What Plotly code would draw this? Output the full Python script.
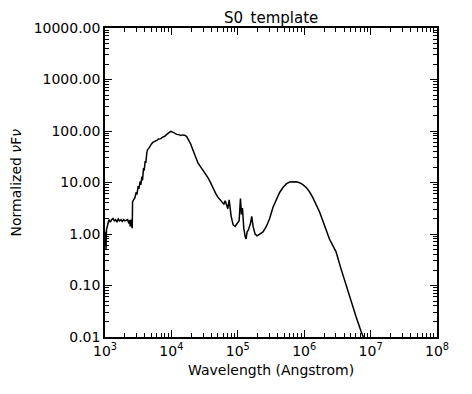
import plotly.graph_objects as go

# Log10 wavelength (Angstrom) and normalized nuFnu
log_wavelength = [
    3.000, 3.005, 3.010, 3.015, 3.022, 3.030, 3.045, 3.060, 3.080, 3.100,
    3.120, 3.140, 3.160, 3.180, 3.200, 3.220, 3.240, 3.260, 3.280, 3.300,
    3.320, 3.340, 3.360, 3.370, 3.380, 3.390, 3.400, 3.405, 3.410, 3.415,
    3.430, 3.450, 3.470, 3.480, 3.500, 3.510, 3.530, 3.540, 3.555, 3.565,
    3.580, 3.590, 3.605, 3.615, 3.630, 3.640, 3.660, 3.680, 3.700, 3.720,
    3.750, 3.780, 3.810, 3.840, 3.870, 3.900, 3.930, 3.960, 3.990, 4.020,
    4.050, 4.080, 4.110, 4.140, 4.170, 4.200, 4.230, 4.260, 4.290, 4.320,
    4.350, 4.380, 4.400, 4.430, 4.460, 4.490, 4.520, 4.550, 4.580, 4.610,
    4.640, 4.670, 4.700, 4.730, 4.760, 4.790, 4.810, 4.830, 4.850, 4.870,
    4.880, 4.900, 4.930, 4.960, 4.990, 5.020, 5.040, 5.055, 5.070, 5.090,
    5.110, 5.125, 5.140, 5.160, 5.190, 5.210, 5.230, 5.260, 5.290, 5.330,
    5.380, 5.430, 5.480, 5.530, 5.580, 5.630, 5.680, 5.730, 5.780, 5.830,
    5.880, 5.930, 5.980, 6.030, 6.080, 6.130, 6.180, 6.230, 6.280, 6.330,
    6.380, 6.430, 6.480, 6.550, 6.620, 6.700, 6.780, 6.860, 6.920, 7.000,
]
flux = [
    0.95, 0.6, 1.1, 0.5, 1.2, 1.4, 1.6, 1.9, 1.7, 1.9,
    2.0, 1.8, 1.9, 1.7, 1.95, 1.8, 1.9, 1.75, 1.9, 1.8,
    1.85, 1.9, 1.6, 1.85, 1.4, 1.9, 1.5, 3.5, 1.3, 4.2,
    4.6, 5.0, 6.5, 5.8, 8.5, 7.5, 10.5, 9.0, 13.0, 11.0,
    19.0, 17.0, 26.0, 24.0, 38.0, 43.0, 46.0, 52.0, 56.0, 60.0,
    62.0, 66.0, 70.0, 71.0, 76.0, 79.0, 86.0, 92.0, 98.0, 95.0,
    90.0, 86.0, 85.0, 82.0, 84.0, 83.0, 78.0, 66.0, 56.0, 44.0,
    34.0, 27.0, 24.0, 21.0, 18.5, 16.0, 14.5, 12.5, 10.5, 8.5,
    7.0, 6.0, 5.2, 4.7, 4.2, 3.8, 4.4, 3.5, 3.1, 4.6,
    3.6, 2.2, 1.5, 1.4, 1.6, 1.8, 4.9, 2.4, 3.2, 1.3,
    0.9, 0.8, 1.1, 1.2, 1.6, 2.2, 1.4, 1.0, 0.92, 1.0,
    1.1, 1.4, 2.0, 3.3, 4.8, 6.4, 8.0, 9.4, 10.2, 10.4,
    10.3, 9.9, 9.1, 8.0, 6.6, 5.1, 3.8, 2.7, 1.8, 1.2,
    0.8, 0.6, 0.45, 0.22, 0.11, 0.052, 0.025, 0.0125, 0.0078, 0.0045,
]
wavelength = [10 ** v for v in log_wavelength]

x_tickvals = [1e3, 1e4, 1e5, 1e6, 1e7, 1e8]
x_ticktext = ["10<sup>3</sup>", "10<sup>4</sup>", "10<sup>5</sup>",
              "10<sup>6</sup>", "10<sup>7</sup>", "10<sup>8</sup>"]
y_tickvals = [0.01, 0.1, 1, 10, 100, 1000, 10000]
y_ticktext = ["0.01", "0.10", "1.00", "10.00", "100.00", "1000.00", "10000.00"]

x_minor = [m * 10 ** d for d in range(3, 8) for m in range(2, 10)]
y_minor = [m * 10 ** d for d in range(-2, 4) for m in range(2, 10)]

FONT = "DejaVu Sans"

fig = go.Figure()
fig.add_trace(go.Scatter(
    x=wavelength, y=flux, mode="lines",
    line=dict(color="black", width=1.5), showlegend=False,
))

axis_common = dict(
    type="log", showgrid=False, zeroline=False, showline=True,
    linecolor="black", linewidth=1.5, mirror="allticks",
    ticks="inside", tickcolor="black", tickwidth=1, automargin=False,
    tickfont=dict(family=FONT, size=14, color="black"),
)

# The page body has an 8px default margin; figure size/margins compensate.
fig.update_layout(
    width=456, height=378,
    paper_bgcolor="white", plot_bgcolor="white",
    margin=dict(l=97, r=27, t=20, b=49, autoexpand=False),
    xaxis=dict(
        **axis_common,
        range=[3, 8], tickvals=x_tickvals, ticktext=x_ticktext, ticklen=7,
        minor=dict(tickvals=x_minor, ticks="inside", ticklen=4,
                   tickcolor="black", showgrid=False),
    ),
    yaxis=dict(
        **axis_common,
        range=[-2, 4], tickvals=y_tickvals, ticktext=y_ticktext, ticklen=7,
        minor=dict(tickvals=y_minor, ticks="inside", ticklen=4,
                   tickcolor="black", showgrid=False),
    ),
    annotations=[
        dict(text="S0_template", xref="paper", yref="paper",
             x=0.5, y=1, xanchor="center", yanchor="middle", yshift=10,
             showarrow=False, borderpad=0,
             font=dict(family=FONT, size=15, color="black")),
        dict(text="Wavelength (Angstrom)", xref="paper", yref="paper",
             x=0.5, y=0, xanchor="center", yanchor="middle", yshift=-33,
             showarrow=False,
             font=dict(family=FONT, size=14, color="black")),
        dict(text="Normalized <i>ν</i>F<i>ν</i>", xref="paper", yref="paper",
             x=0, y=0.5, xanchor="center", yanchor="middle", xshift=-90,
             textangle=-90, showarrow=False,
             font=dict(family=FONT, size=14, color="black")),
    ],
)

fig.write_html("out.html")
